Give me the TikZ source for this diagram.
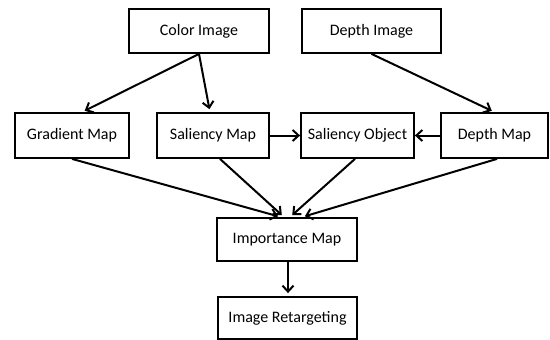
\documentclass[tikz,border=0pt]{standalone}
\usepackage{fontspec}
\setmainfont{Carlito}
\usetikzlibrary{arrows.meta}

\begin{document}
\begin{tikzpicture}[x=1pt,y=-1pt,
  box/.style={draw,line width=1.8pt,minimum height=44pt,inner sep=0pt,font=\fontsize{16}{19}\selectfont},
  arr/.style={line width=2pt,-{Straight Barb[length=6pt,width=11pt]},shorten >=3pt}]%pixel units
  \useasboundingbox (0,0) rectangle (550,340);
  	\draw (199,31) node[box,minimum width=140pt] (colorimg) {Color Image};
  	\draw (371.5,31) node[box,minimum width=139pt] (depthimg) {Depth Image};
  	\draw (72,135.5) node[box,minimum width=114pt,minimum height=45pt] (gradmap) {Gradient Map};
  	\draw (213,135.5) node[box,minimum width=112pt,minimum height=45pt] (salmap) {Saliency Map};
  	\draw (357.5,135.5) node[box,minimum width=113pt,minimum height=45pt] (salobj) {Saliency Object};
  	\draw (494.5,135.5) node[box,minimum width=107pt,minimum height=45pt] (depthmap) {Depth Map};
  	\draw (287,239.5) node[box,minimum width=140pt,minimum height=43pt] (impmap) {Importance Map};
  	\draw (287.5,318) node[box,minimum width=139pt,minimum height=42pt] (retarget) {Image Retargeting};
	\draw[arr] (colorimg.south) -- ([xshift=10pt]gradmap.north);
	\draw[arr] (colorimg.south) -- ([xshift=-3pt]salmap.north);
	\draw[arr] (depthimg.south) -- (depthmap.north);
	\draw[arr,shorten >=0pt] (salmap.east) -- (salobj.west);
	\draw[arr,shorten >=0pt] (depthmap.west) -- (salobj.east);
	\draw[arr] (gradmap.south) -- ([xshift=-6pt]impmap.north);
	\draw[arr] ([xshift=7pt]salmap.south) -- ([xshift=-3pt]impmap.north);
	\draw[arr] ([xshift=-2.5pt]salobj.south) -- ([xshift=3pt]impmap.north);
	\draw[arr] ([xshift=2.5pt]depthmap.south) -- ([xshift=15pt]impmap.north);
	\draw[arr] ([xshift=1pt]impmap.south) -- ([xshift=0.5pt]retarget.north);
	\end{tikzpicture}
\end{document}
